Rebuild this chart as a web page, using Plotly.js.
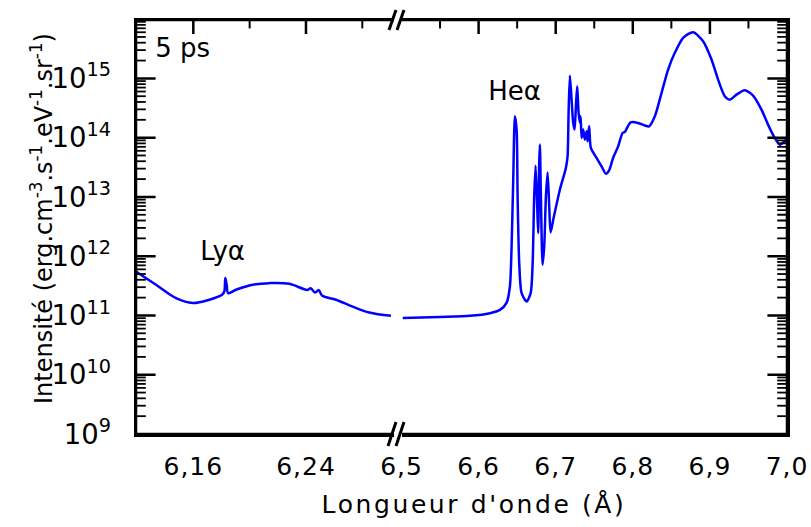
<!DOCTYPE html>
<html>
<head>
<meta charset="utf-8">
<script src="https://cdn.plot.ly/plotly-3.0.1.min.js"></script>
<style>
html, body { margin: 0; padding: 0; background: #fff; }
#chart { width: 811px; height: 527px; }
</style>
</head>
<body>
<div id="chart"></div>
<script>
// Left segment (Lyα region), wavelength in Å
const wlShort = [6.1193, 6.1335, 6.1477, 6.1596, 6.1714, 6.1804, 6.1820, 6.1827, 6.1837, 6.1848,
  6.1903, 6.2022, 6.2139, 6.2281, 6.2410, 6.2433, 6.2466, 6.2490, 6.2514, 6.2613, 6.2731, 6.2849, 6.3003];
const intShort = [5.52e11, 3.29e11, 1.96e11, 1.62e11, 1.84e11, 2.23e11, 2.54e11, 4.27e11, 3.29e11, 2.38e11,
  2.71e11, 3.29e11, 3.51e11, 3.42e11, 2.70e11, 2.87e11, 2.44e11, 2.70e11, 2.17e11, 1.84e11, 1.41e11, 1.12e11, 9.85e10];

// Right segment (Heα region)
const wlLong = [6.5016, 6.5499, 6.5888, 6.6147, 6.6277, 6.6364, 6.6406, 6.6428, 6.6449, 6.6471,
  6.6493, 6.6506, 6.6527, 6.6558, 6.6623, 6.6675, 6.6701, 6.6721, 6.6739, 6.6760,
  6.6773, 6.6786, 6.6795, 6.6808, 6.6830, 6.6851, 6.6873, 6.6895, 6.6916, 6.6934,
  6.6968, 6.7054, 6.7132, 6.7154, 6.7167, 6.7184, 6.7206, 6.7227, 6.7245, 6.7262,
  6.7279, 6.7297, 6.7314, 6.7323, 6.7336, 6.7356, 6.7378, 6.7401, 6.7413, 6.7434,
  6.7456, 6.7530, 6.7595, 6.7651, 6.7693, 6.7745, 6.7810, 6.7867, 6.7897, 6.7971,
  6.8069, 6.8156, 6.8212, 6.8286, 6.8373, 6.8458, 6.8545, 6.8653, 6.8782, 6.8912,
  6.9021, 6.9106, 6.9193, 6.9258, 6.9345, 6.9452, 6.9560, 6.9669, 6.9754, 6.9841,
  6.9906, 6.9971, 6.9997];
const intLong = [9.10e10, 9.46e10, 9.85e10, 1.09e11, 1.24e11, 1.65e11, 3.08e11, 1.46e12, 1.95e13, 2.29e14,
  1.37e14, 1.02e13, 7.64e11, 2.38e11, 1.72e11, 2.38e11, 7.64e11, 1.02e13, 3.37e13, 6.92e12,
  2.46e12, 3.74e13, 7.63e13, 1.02e13, 7.16e11, 1.46e12, 1.02e13, 2.59e13, 6.92e12, 2.51e12,
  4.12e12, 1.32e13, 3.08e13, 4.83e13, 2.61e14, 1.11e15, 4.38e14, 1.77e14, 1.37e14, 3.38e14,
  7.36e14, 2.61e14, 1.77e14, 2.29e14, 9.89e13, 1.37e14, 9.25e13, 1.28e14, 8.66e13, 1.55e14,
  6.70e13, 4.54e13, 3.27e13, 2.47e13, 2.81e13, 4.59e13, 7.13e13, 1.20e14, 1.25e14, 1.81e14,
  1.77e14, 1.60e14, 1.55e14, 2.29e14, 5.69e14, 1.41e15, 2.70e15, 4.83e15, 6.01e15, 4.24e15,
  2.08e15, 9.55e14, 4.99e14, 4.38e14, 5.32e14, 6.30e14, 5.12e14, 2.97e14, 1.66e14, 9.89e13,
  7.62e13, 8.67e13, 9.44e13];

// Ticks
const xMajorLeft = [6.16, 6.24];
const xMinorLeft = [6.20, 6.28];
const xMajorRight = [6.5, 6.6, 6.7, 6.8, 6.9, 7.0];
const xMinorRight = [6.55, 6.65, 6.75, 6.85, 6.95];
const yDecades = [9, 10, 11, 12, 13, 14, 15];

// Labels (text, anchor wavelength, anchor intensity)
const labelText = ["5 ps", "Lyα", "Heα"];
const labelWl = [6.1330, 6.1650, 6.6125];
const labelInt = [2.9e15, 1.13e12, 5.56e14];

const xTitle = "Longueur d'onde (Å)";
const yTitle = "Intensité (erg.cm<sup>-3</sup>.s<sup>-1</sup>.eV<sup>-1</sup>.sr<sup>-1</sup>)";

const FONT = "DejaVu Sans, sans-serif";
const L = 136, T = 20, W = 651, H = 414;
const px = v => (v - L) / W;
const py = v => (T + H - v) / H;
const YBOT = 9, YTOP = 15.985;
const xr1 = [6.1193, 6.3025], xr2 = [6.5, 7.0];
const dL = px(394), dR = px(401.5);
const P = e => Math.pow(10, e);

// tick marks as line-symbol markers centred on the frame (outer half clipped)
function tickMarks(xa, ya, xs, ys, symbol, size, w) {
  return { x: xs, y: ys, xaxis: xa, yaxis: ya, mode: 'markers', cliponaxis: true,
    marker: { symbol: symbol, size: size, color: '#000', line: { width: w, color: '#000' } },
    hoverinfo: 'skip', showlegend: false };
}
function xTicks(xa, ya, vals, size, w) {
  const xs = [], ys = [];
  vals.forEach(v => { xs.push(v, v); ys.push(P(YBOT), P(YTOP)); });
  return tickMarks(xa, ya, xs, ys, 'line-ns', size, w);
}
function yTicks(xa, ya, x0, major, size, w) {
  const xs = [], ys = [];
  yDecades.forEach(e => {
    if (major) { if (e > YBOT) { xs.push(x0); ys.push(P(e)); } }
    else for (let m = 2; m <= 9; m++) { const lv = e + Math.log10(m); if (lv < YTOP) { xs.push(x0); ys.push(P(lv)); } }
  });
  return tickMarks(xa, ya, xs, ys, 'line-ew', size, w);
}
function frame(xa, ya, segs) {
  const xs = [], ys = [];
  segs.forEach(s => { xs.push(s[0], s[2], null); ys.push(s[1], s[3], null); });
  return { x: xs, y: ys, xaxis: xa, yaxis: ya, mode: 'lines', line: { color: '#000', width: 2.5 }, hoverinfo: 'skip', showlegend: false };
}

const lineStyle = { color: '#0000ff', width: 2.5, shape: 'spline' };
const txt = (i, xa, ya) => ({ x: [labelWl[i]], y: [labelInt[i]], text: [labelText[i]], xaxis: xa, yaxis: ya, mode: 'text', textposition: 'middle right',
  textfont: { family: FONT, size: 26, color: '#000' }, cliponaxis: false, hoverinfo: 'skip', showlegend: false });
const traces = [
  { x: wlShort, y: intShort, xaxis: 'x', yaxis: 'y', mode: 'lines', line: Object.assign({ smoothing: 1 }, lineStyle), hoverinfo: 'skip', showlegend: false },
  { x: wlLong, y: intLong, xaxis: 'x2', yaxis: 'y2', mode: 'lines', line: Object.assign({ smoothing: 0.7 }, lineStyle), hoverinfo: 'skip', showlegend: false },
  frame('x', 'y', [[xr1[0], P(YBOT), xr1[1], P(YBOT)], [xr1[0], P(YTOP), xr1[1], P(YTOP)], [xr1[0], P(YBOT), xr1[0], P(YTOP)]]),
  frame('x2', 'y2', [[xr2[0], P(YBOT), xr2[1], P(YBOT)], [xr2[0], P(YTOP), xr2[1], P(YTOP)], [xr2[1], P(YBOT), xr2[1], P(YTOP)]]),
  xTicks('x', 'y', xMajorLeft, 20, 2.5),
  xTicks('x', 'y', xMinorLeft, 12, 2),
  xTicks('x2', 'y2', xMajorRight.filter(v => v > xr2[0] && v < xr2[1]), 20, 2.5),
  xTicks('x2', 'y2', xMinorRight, 12, 2),
  yTicks('x', 'y', xr1[0], true, 28, 2.5),
  yTicks('x', 'y', xr1[0], false, 14, 1.8),
  yTicks('x2', 'y2', xr2[1], true, 28, 2.5),
  yTicks('x2', 'y2', xr2[1], false, 14, 1.8),
  txt(0, 'x', 'y'), txt(1, 'x', 'y'), txt(2, 'x2', 'y2')
];

const xCommon = {
  showline: true, linecolor: '#000', linewidth: 2.5, mirror: true,
  ticks: '', showgrid: false, zeroline: false, ticklabelstandoff: 8,
  tickfont: { family: FONT, size: 25, color: '#000' }
};
const yCommon = {
  type: 'log', range: [YBOT, YTOP], dtick: 1, exponentformat: 'power',
  showline: true, linecolor: '#000', linewidth: 2.5,
  ticks: '', showgrid: false, zeroline: false, domain: [0, 1],
  tickfont: { family: FONT, size: 22, color: '#000' }
};

const shapes = [];
const seg = (x0, y0, x1, y1) => shapes.push({ type: 'line', xref: 'paper', yref: 'paper', x0, y0, x1, y1, line: { color: '#000', width: 3 } });
seg(px(389), py(30), px(396), py(10));
seg(px(397), py(30), px(404), py(10));
seg(px(388), py(446), px(396), py(422));
seg(px(396), py(446), px(404), py(422));

const layout = {
  width: 811, height: 527,
  margin: { l: L, r: 811 - L - W, t: T, b: 527 - T - H },
  showlegend: false,
  separators: ', ',
  title: { text: xTitle, font: { family: FONT, size: 25, color: '#000' }, xref: 'container', yref: 'container',
    x: 474 / 811, y: 1 - 504 / 527, xanchor: 'center', yanchor: 'middle' },
  xaxis: Object.assign({}, xCommon, { domain: [0, dL], range: xr1, anchor: 'y', tickvals: xMajorLeft, tickformat: '.2f' }),
  xaxis2: Object.assign({}, xCommon, { domain: [dR, 1], range: xr2, anchor: 'y2', tickvals: xMajorRight, tickformat: '.1f' }),
  yaxis: Object.assign({}, yCommon, { anchor: 'x', side: 'left', ticklabelstandoff: 18 }),
  yaxis2: Object.assign({}, yCommon, { anchor: 'x2', side: 'right', showticklabels: false }),
  annotations: [
    { text: yTitle, xref: 'paper', yref: 'paper', x: px(42), y: py(219), xanchor: 'center', yanchor: 'middle', textangle: -90, showarrow: false, font: { family: FONT, size: 24, color: '#000' } }
  ],
  shapes: shapes
};

Plotly.newPlot('chart', traces, layout, { staticPlot: true, displayModeBar: false }).then(() => {
  document.querySelectorAll('.gtitle').forEach(t => { t.style.letterSpacing = '2.6px'; });
  document.querySelectorAll('.xtick text, .x2tick text').forEach(t => { t.style.letterSpacing = '1px'; });
});
</script>
</body>
</html>
